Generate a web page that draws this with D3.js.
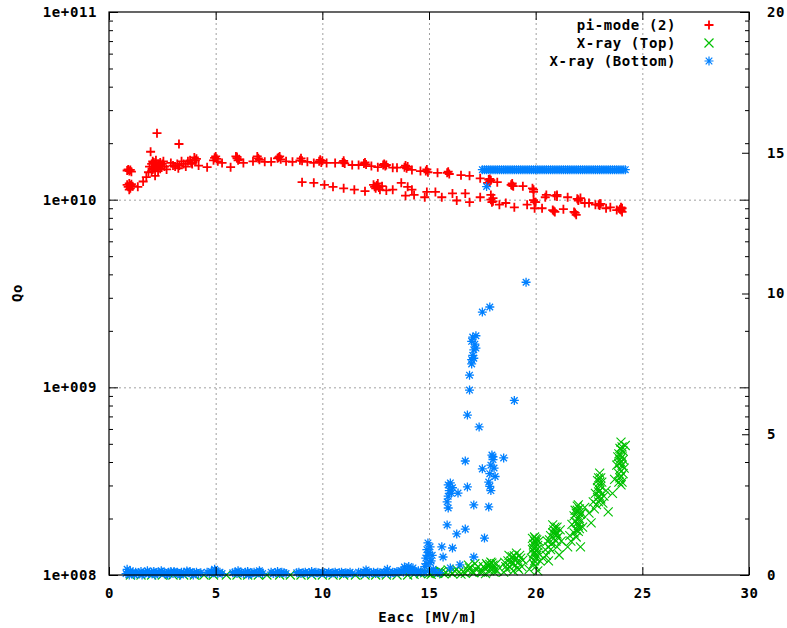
<!DOCTYPE html>
<html>
<head>
<meta charset="utf-8">
<script src="https://cdn.jsdelivr.net/npm/d3@7"></script>
<style>
  html, body { margin: 0; padding: 0; background: #fff; }
  svg text { font-family: "DejaVu Sans Mono", "Liberation Mono", monospace; font-weight: bold; font-size: 14px; letter-spacing: 0.6px; fill: #000; }
</style>
</head>
<body>
<svg id="chart" width="787" height="628"></svg>
<script>
// ---- data -------------------------------------------------------------
// Q0 versus accelerating gradient, pi-mode (left, log axis)
const piMode = [
  [0.85,1.43e10],[0.95,1.42e10],[1.0,1.44e10],[1.05,1.41e10],[0.9,1.45e10],
  [0.85,1.20e10],[0.9,1.17e10],[0.95,1.22e10],[1.0,1.19e10],[1.05,1.21e10],[1.1,1.18e10],[1.0,1.15e10],[0.95,1.13e10],
  [1.35,1.17e10],[1.6,1.25e10],[1.75,1.32e10],[1.85,1.40e10],[1.95,1.80e10],[2.25,2.26e10],
  [1.9,1.50e10],[2.0,1.55e10],[2.05,1.45e10],[2.1,1.58e10],[2.15,1.50e10],[2.2,1.62e10],[2.25,1.48e10],
  [2.3,1.55e10],[2.35,1.52e10],[2.4,1.58e10],[2.45,1.50e10],[2.5,1.55e10],[2.55,1.60e10],[2.0,1.42e10],
  [2.16,1.34e10],[2.3,1.42e10],[2.6,1.50e10],[2.7,1.45e10],[2.9,1.57e10],[3.0,1.52e10],[3.1,1.50e10],
  [2.1,1.47e10],[2.2,1.53e10],[2.4,1.46e10],[2.05,1.60e10],
  [3.28,1.98e10],[3.2,1.55e10],[3.25,1.47e10],[3.3,1.52e10],[3.4,1.60e10],[3.5,1.55e10],[3.6,1.50e10],
  [3.7,1.60e10],[3.8,1.62e10],[3.85,1.57e10],[3.9,1.55e10],[4.0,1.68e10],[4.05,1.62e10],[4.1,1.65e10],
  [4.2,1.52e10],[4.6,1.49e10],[4.9,1.62e10],[5.0,1.70e10],[5.05,1.65e10],[5.1,1.60e10],[5.3,1.57e10],
  [5.7,1.49e10],[5.95,1.70e10],[6.0,1.66e10],[6.05,1.62e10],[6.1,1.64e10],[6.3,1.57e10],[6.75,1.60e10],
  [6.95,1.70e10],[7.0,1.66e10],[7.05,1.63e10],[7.3,1.59e10],[7.6,1.59e10],[7.9,1.66e10],[8.0,1.70e10],
  [8.05,1.64e10],[8.3,1.60e10],[8.6,1.59e10],[8.95,1.62e10],[9.0,1.66e10],[9.05,1.61e10],[9.3,1.59e10],
  [9.6,1.57e10],[9.85,1.60e10],[9.9,1.63e10],[9.95,1.58e10],[10.2,1.57e10],[10.6,1.57e10],[10.95,1.58e10],
  [11.0,1.61e10],[11.05,1.56e10],[11.4,1.53e10],[11.7,1.53e10],[11.95,1.56e10],[12.0,1.58e10],[12.05,1.54e10],
  [12.3,1.51e10],[12.6,1.49e10],[12.85,1.53e10],[12.9,1.55e10],[12.95,1.51e10],[13.3,1.48e10],[13.5,1.48e10],
  [13.85,1.49e10],[13.9,1.52e10],[13.95,1.47e10],[14.2,1.44e10],[14.6,1.42e10],[14.85,1.42e10],[14.9,1.45e10],
  [14.95,1.40e10],[15.4,1.39e10],[15.85,1.39e10],[15.9,1.41e10],[15.95,1.37e10],[16.5,1.35e10],[16.9,1.34e10],
  [17.4,1.30e10],[17.8,1.28e10],[17.85,1.25e10],[17.9,1.27e10],[17.75,1.23e10],[18.2,1.24e10],[18.85,1.20e10],
  [18.9,1.22e10],[18.95,1.18e10],[19.4,1.18e10],[19.85,1.15e10],[19.9,1.13e10],[20.5,1.06e10],[20.45,1.03e10],
  [20.9,1.05e10],[21.0,1.06e10],[21.5,1.03e10],[21.95,1.01e10],[22.0,0.99e10],[22.1,1.02e10],[22.5,0.96e10],
  [22.95,0.94e10],[23.0,0.93e10],[23.05,0.95e10],[23.5,0.91e10],[23.95,0.89e10],[24.0,0.88e10],[24.05,0.90e10],
  [7.95,1.68e10],[6.0,1.69e10],[4.95,1.67e10],[10.0,1.61e10],[11.0,1.58e10],[13.0,1.53e10],[14.0,1.50e10],
  [17.85,1.29e10],[18.9,1.19e10],[19.9,1.10e10],[21.0,1.04e10],[22.0,1.00e10],[23.0,0.95e10],[24.0,0.91e10],
  // second ramp
  [9.05,1.24e10],[9.6,1.23e10],[10.1,1.20e10],[10.5,1.17e10],[11.0,1.15e10],[11.5,1.13e10],[12.0,1.11e10],
  [12.4,1.20e10],[12.5,1.15e10],[12.6,1.22e10],[12.7,1.13e10],[12.8,1.18e10],[13.0,1.12e10],[13.3,1.13e10],
  [12.45,1.17e10],[12.55,1.19e10],[12.65,1.16e10],
  [13.7,1.23e10],[13.9,1.05e10],[14.0,1.17e10],[14.2,1.13e10],[14.3,1.06e10],[14.8,1.03e10],[14.9,1.10e10],
  [15.3,1.10e10],[15.6,1.03e10],[16.1,1.08e10],[16.3,0.99e10],[16.7,1.08e10],[16.9,0.97e10],[17.4,1.03e10],
  [17.9,1.06e10],[17.95,0.97e10],[18.0,1.02e10],[18.3,0.94e10],[18.6,0.96e10],[19.0,0.91e10],[19.6,0.94e10],
  [19.9,0.995e10],[19.95,0.90e10],[20.0,0.97e10],[20.3,0.90e10],[20.8,0.88e10],[20.9,0.86e10],[21.3,0.89e10],
  [21.8,0.86e10],[21.9,0.83e10],[22.3,0.96e10],[22.8,0.94e10],[23.3,0.90e10],[23.8,0.88e10],[24.05,0.86e10],
  [17.9,1.00e10],[18.0,0.98e10],[19.95,0.97e10],[20.85,0.87e10],[21.85,0.85e10]
];

// X-ray dose rate, top detector (right axis)
const xrayTop = [
  [1.0,0],[1.5,0],[2.0,0],[2.5,0],[3.0,0],[3.5,0],[4.0,0],[4.45,0],[4.9,0],[5.5,0],[6.0,0],[6.5,0],
  [7.0,0],[7.4,0],[8.0,0],[8.5,0],[9.0,0],[9.5,0],[10.0,0],[10.5,0],[11.0,0],[11.55,0],[12.0,0],
  [12.5,0],[13.0,0],[13.5,0],[14.0,0],[14.3,0.02],
  [14.6,0.05],[14.8,0.08],[15.0,0.05],[15.2,0.1],[15.4,0.06],[15.6,0.12],[15.8,0.08],[16.0,0.1],
  [16.2,0.15],[16.4,0.1],[16.6,0.12],[16.8,0.18],[17.0,0.12],[17.2,0.2],[15.1,0.02],[15.7,0.04],[16.5,0.03],
  [15.3,0.08],[15.5,0.15],[15.9,0.18],[16.1,0.05],[16.3,0.2],[16.7,0.06],[16.9,0.25],[17.1,0.08],[17.3,0.3],
  [17.4,0.1],[16.85,0.35],[17.15,0.4],
  [17.5,0.1],[17.6,0.25],[17.7,0.4],[17.8,0.3],[17.9,0.46],[18.0,0.35],[18.1,0.2],[18.2,0.15],[17.65,0.05],
  [17.85,0.15],[17.95,0.42],[17.75,0.33],[17.55,0.3],[18.15,0.4],[18.05,0.1],[17.85,0.38],[18.0,0.22],
  [18.5,0.1],[18.6,0.3],[18.7,0.5],[18.8,0.28],[18.9,0.65],[19.0,0.55],[19.1,0.78],[19.2,0.45],[19.3,0.6],
  [19.4,0.53],[18.75,0.7],[19.05,0.35],[18.95,0.15],[18.55,0.45],[18.65,0.2],[19.15,0.25],[19.25,0.7],
  [19.35,0.3],[18.85,0.5],[19.0,0.68],[18.9,0.4],[19.1,0.6],[19.2,0.2],
  [19.7,0.2],[19.8,0.6],[19.85,0.9],[19.9,1.1],[19.95,1.35],[20.0,1.0],[20.05,1.25],[20.1,0.8],[20.15,1.2],
  [20.2,0.5],[19.9,0.75],[20.0,1.15],[19.9,0.4],[20.0,0.6],[20.05,0.9],[19.95,1.2],[20.1,1.05],[19.85,1.3],
  [19.95,0.5],[20.0,0.3],[20.05,0.7],[19.9,0.95],[20.0,1.28],[19.95,0.8],[20.1,0.15],
  [20.35,0.6],[20.45,0.9],[20.55,1.2],[20.6,1.0],[20.7,1.4],[20.8,1.78],[20.85,1.3],[20.95,1.55],[21.0,1.7],
  [21.1,0.71],[21.2,1.2],[21.15,1.6],[20.9,1.45],[21.05,1.35],[20.75,1.1],[20.85,1.6],[20.95,1.2],[21.0,1.45],
  [20.5,0.7],[20.65,1.25],[20.8,1.5],[20.9,1.7],[20.7,0.9],[21.0,1.0],[20.6,0.5],
  [21.5,1.0],[21.6,1.4],[21.7,1.8],[21.8,2.1],[21.9,1.6],[21.95,2.3],[22.0,2.49],[22.05,2.0],[22.1,1.0],
  [22.15,2.2],[22.2,1.7],[22.3,2.4],[21.85,1.9],[22.0,1.75],[22.1,2.15],[21.9,2.2],[22.0,2.05],[21.95,1.85],
  [22.05,2.35],[21.8,1.5],[22.1,1.9],[21.65,1.2],[21.9,1.35],[22.0,1.55],[21.95,2.45],[22.05,1.65],[21.85,2.3],
  [22.5,2.2],[22.6,1.85],[22.7,2.6],[22.8,2.9],[22.9,3.1],[22.95,3.45],[23.0,3.62],[23.05,2.7],[23.1,3.3],
  [23.2,2.8],[23.3,3.0],[23.4,2.24],[22.85,2.5],[23.0,3.0],[22.9,2.75],[23.0,3.3],[22.95,2.95],[23.05,3.15],
  [22.75,2.35],[23.15,2.55],[22.9,3.35],[23.0,2.8],[22.95,2.6],[23.05,3.45],
  [23.6,2.9],[23.7,3.4],[23.8,3.9],[23.85,4.2],[23.9,3.6],[23.95,4.5],[24.0,4.72],[24.0,4.0],[24.05,3.3],
  [24.1,4.4],[24.15,3.8],[24.2,4.6],[23.9,4.3],[24.0,3.5],[24.1,4.1],[23.95,3.75],[24.0,4.25],[24.05,3.9],
  [23.9,3.3],[24.1,3.6],[23.95,4.1],[24.05,4.55],[24.0,3.2],[23.95,3.45],[24.05,4.2],[24.0,4.45],[23.9,3.95]
];

// X-ray dose rate, bottom detector (right axis)
const xrayBottom = [
  [0.8,0.05],[0.85,0.2],[0.9,0.1],[0.95,0],[1.0,0.15],[1.05,0.05],[1.1,0.1],[1.2,0],[1.3,0.05],[1.4,0.08],
  [1.5,0.12],[1.6,0.05],[1.7,0.1],[1.8,0.15],[1.9,0.05],[2.0,0.1],[2.1,0.12],[2.2,0.08],[2.3,0.1],[2.4,0.05],
  [2.5,0.1],[2.6,0.08],[2.7,0.05],[2.8,0.1],[2.9,0.12],[3.0,0.05],[3.1,0.08],[3.2,0.1],[3.3,0.05],[3.4,0.1],
  [3.5,0.08],[3.6,0.05],[3.7,0.1],[3.8,0.12],[3.9,0.05],[4.0,0.08],[4.1,0.1],[4.2,0.05],[4.3,0.08],
  [1.25,0.1],[1.55,0],[1.85,0.05],[2.15,0],[2.45,0.15],[2.75,0],[3.05,0.12],[3.35,0],[3.65,0.14],[3.95,0],
  [4.6,0.1],[4.7,0.05],[4.8,0.12],[4.9,0.08],[5.0,0.15],[5.1,0.05],[5.2,0.1],[5.3,0.05],[4.95,0.2],
  [5.8,0.08],[5.9,0.1],[6.0,0.05],[6.1,0.1],[6.2,0.08],[6.3,0.05],[6.4,0.1],[6.5,0.12],[6.6,0.05],[6.7,0.08],
  [6.8,0.1],[6.9,0.05],[7.0,0.08],[7.1,0.1],[7.2,0.05],[6.05,0.15],[6.55,0],[7.05,0.15],
  [7.6,0.1],[7.7,0.05],[7.8,0.08],[7.9,0.12],[8.0,0.05],[8.1,0.1],[8.2,0.08],[8.3,0.05],
  [8.8,0.08],[8.9,0.1],[9.0,0.05],[9.1,0.08],[9.2,0.1],[9.3,0.05],[9.4,0.08],[9.5,0.12],[9.6,0.05],[9.7,0.1],
  [9.8,0.08],[9.9,0.05],[10.0,0.1],[10.1,0.08],[10.2,0.05],[10.3,0.1],[10.4,0.05],[10.5,0.08],[10.6,0.1],
  [10.7,0.05],[10.8,0.08],[10.9,0.1],[11.0,0.05],[11.1,0.08],[11.2,0.05],[11.3,0.1],[11.4,0.05],
  [11.7,0.1],[11.8,0.08],[11.9,0.05],[12.0,0.1],[12.1,0.12],[12.2,0.05],[12.3,0.08],[12.4,0.1],[12.5,0.05],
  [12.6,0.1],[12.7,0.08],[12.8,0.05],[12.9,0.1],[13.0,0.12],[13.1,0.08],[13.2,0.05],[13.3,0.1],[13.4,0.08],
  [13.5,0.12],[13.6,0.1],[13.7,0.15],[13.8,0.1],[13.9,0.2],[14.0,0.15],[14.1,0.1],[14.2,0.2],[14.3,0.12],
  [14.4,0.1],[14.5,0.15],[14.6,0.1],[13.85,0.28],[14.05,0.3],[14.25,0.25],[12.05,0.18],[13.05,0.2],
  [14.8,0.3],[14.85,0.6],[14.9,0.9],[14.95,1.14],[15.0,0.8],[15.05,1.0],[15.1,0.5],[15.15,0.7],[15.2,0.2],
  [14.9,0.4],[14.8,0.1],[15.0,0.15],[15.3,0.1],[15.5,0.08],[14.95,0.7],[15.05,0.45],
  [15.6,1.0],[15.66,0.64],[16.1,0.96],[16.45,0.36],[16.0,0.25],[15.85,1.78],[16.3,1.46],[16.7,1.63],
  [17.6,1.31],[17.1,0.64],[15.9,2.38],
  [15.85,2.6],[15.9,2.8],[15.95,3.0],[16.0,3.27],[16.05,2.9],[16.1,3.1],[15.9,3.2],[16.36,2.91],
  [16.7,4.05],[17.5,3.77],[18.5,4.16],[16.8,3.13],[17.1,2.49],[17.8,2.42],
  [17.8,3.3],[17.85,3.6],[17.9,3.9],[17.95,4.26],[18.0,4.1],[18.05,3.8],[18.1,3.5],[17.9,3.0],[18.0,4.2],
  [17.85,3.15],
  [17.0,7.65],[17.05,7.8],[17.1,8.0],[17.15,8.2],[17.2,8.5],[17.0,8.3],[17.1,7.7],[17.2,8.06],[17.05,8.45],
  [17.0,7.5],[16.9,7.1],[16.9,6.57],[16.8,5.68],[17.35,5.26],[19.0,6.2],[17.5,9.34],[17.85,9.52],[19.55,10.4],
  [17.7,13.8],
  [17.5,14.4],[17.6,14.4],[17.7,14.4],[17.8,14.4],[17.9,14.4],[18.0,14.4],[18.1,14.4],[18.2,14.4],[18.3,14.4],
  [18.4,14.4],[18.5,14.4],[18.6,14.4],[18.7,14.4],[18.8,14.4],[18.9,14.4],[19.0,14.4],[19.1,14.4],[19.2,14.4],
  [19.3,14.4],[19.4,14.4],[19.5,14.4],[19.6,14.4],[19.7,14.4],[19.8,14.4],[19.9,14.4],[20.0,14.4],[20.1,14.4],
  [20.2,14.4],[20.3,14.4],[20.4,14.4],[20.5,14.4],[20.6,14.4],[20.7,14.4],[20.8,14.4],[20.9,14.4],[21.0,14.4],
  [21.1,14.4],[21.2,14.4],[21.3,14.4],[21.4,14.4],[21.5,14.4],[21.6,14.4],[21.7,14.4],[21.8,14.4],[21.9,14.4],
  [22.0,14.4],[22.1,14.4],[22.2,14.4],[22.3,14.4],[22.4,14.4],[22.5,14.4],[22.6,14.4],[22.7,14.4],[22.8,14.4],
  [22.9,14.4],[23.0,14.4],[23.1,14.4],[23.2,14.4],[23.3,14.4],[23.4,14.4],[23.5,14.4],[23.6,14.4],[23.7,14.4],
  [23.8,14.4],[23.9,14.4],[24.0,14.4],[24.1,14.4],[24.2,14.4]
];

const xTicks = [0, 5, 10, 15, 20, 25, 30];
const qTicks = [1e8, 1e9, 1e10, 1e11];
const qMinorTicks = [2,3,4,5,6,7,8,9].flatMap(k => [k*1e8, k*1e9, k*1e10]);
const y2Ticks = [0, 5, 10, 15, 20];
const seriesNames = ["pi-mode (2)", "X-ray (Top)", "X-ray (Bottom)"];
const seriesColors = ["#ff0000", "#00c000", "#0080ff"];

// ---- layout -----------------------------------------------------------
const svg = d3.select("#chart");
const L = 109, R = 749, T = 12, B = 575;

const x = d3.scaleLinear().domain([0, 30]).range([L, R]);
const yQ = d3.scaleLog().domain([1e8, 1e11]).range([B, T]);
const y2 = d3.scaleLinear().domain([0, 20]).range([B, T]);

const qFormat = v => "1e+" + String(Math.round(Math.log10(v))).padStart(3, "0");

// grid
const grid = svg.append("g").attr("class", "grid");
grid.append("g").attr("transform", `translate(0,${B})`)
  .call(d3.axisBottom(x).tickValues([5,10,15,20,25]).tickSize(-(B - T)).tickFormat(""));
grid.append("g").attr("transform", `translate(${L},0)`)
  .call(d3.axisLeft(yQ).tickValues([1e9, 1e10]).tickSize(-(R - L)).tickFormat(""));
grid.selectAll(".domain").remove();
grid.selectAll("line").attr("stroke", "#a0a0a0").attr("stroke-dasharray", "2,3");

// markers
const plusPath = "M-4.5,0H4.5M0,-4.5V4.5";
const crossPath = "M-4.5,-4.5L4.5,4.5M-4.5,4.5L4.5,-4.5";
const starPath = "M-4.5,0H4.5M0,-4.5V4.5M-3.3,-3.3L3.3,3.3M-3.3,3.3L3.3,-3.3";

const marks = svg.append("g");

marks.append("g").selectAll("path").data(piMode).join("path")
  .attr("d", plusPath)
  .attr("transform", d => `translate(${x(d[0])},${yQ(d[1])})`)
  .attr("fill", "none").attr("stroke", seriesColors[0]).attr("stroke-width", 1.8);

marks.append("g").selectAll("path").data(xrayTop).join("path")
  .attr("d", crossPath)
  .attr("transform", d => `translate(${x(d[0])},${y2(d[1])})`)
  .attr("fill", "none").attr("stroke", seriesColors[1]).attr("stroke-width", 1.1);

marks.append("g").selectAll("path").data(xrayBottom).join("path")
  .attr("d", starPath)
  .attr("transform", d => `translate(${x(d[0])},${y2(d[1])})`)
  .attr("fill", "none").attr("stroke", seriesColors[2]).attr("stroke-width", 1.3);

// axes
const axes = svg.append("g");
const styleAxis = g => { g.select(".domain").remove(); g.selectAll("line").attr("stroke", "#000"); g.selectAll("text").attr("font-size", null).attr("font-family", null); };

axes.append("g").attr("transform", `translate(0,${B})`)
  .call(d3.axisBottom(x).tickValues(xTicks).tickSize(-8).tickPadding(13).tickFormat(d3.format("d")))
  .call(styleAxis);
axes.append("g").attr("transform", `translate(0,${T})`)
  .call(d3.axisTop(x).tickValues(xTicks).tickSize(-8).tickFormat(""))
  .call(styleAxis);
axes.append("g").attr("transform", `translate(${L},0)`)
  .call(d3.axisLeft(yQ).tickValues(qTicks).tickSize(-9).tickPadding(12).tickFormat(qFormat))
  .call(styleAxis);
axes.append("g").attr("transform", `translate(${L},0)`)
  .call(d3.axisLeft(yQ).tickValues(qMinorTicks).tickSize(-4).tickFormat(""))
  .call(styleAxis);
axes.append("g").attr("transform", `translate(${R},0)`)
  .call(d3.axisRight(yQ).tickValues(qTicks).tickSize(-9).tickFormat(""))
  .call(styleAxis);
axes.append("g").attr("transform", `translate(${R},0)`)
  .call(d3.axisRight(yQ).tickValues(qMinorTicks).tickSize(-4).tickFormat(""))
  .call(styleAxis);
axes.append("g").attr("transform", `translate(${R},0)`)
  .call(d3.axisRight(y2).tickValues(y2Ticks).tickSize(-7).tickPadding(18).tickFormat(d3.format("d")))
  .call(styleAxis);

// frame
svg.append("rect").attr("x", L).attr("y", T).attr("width", R - L).attr("height", B - T)
  .attr("fill", "none").attr("stroke", "#000").attr("stroke-width", 1.2);

// axis titles
svg.append("text").attr("x", 428).attr("y", 622).attr("text-anchor", "middle").text("Eacc [MV/m]");
svg.append("text").attr("transform", "translate(22,293) rotate(-90)").attr("text-anchor", "middle").text("Qo");

// legend
const legend = svg.append("g");
const legendPaths = [plusPath, crossPath, starPath];
seriesNames.forEach((name, i) => {
  const yy = 25 + i * 18;
  legend.append("text").attr("x", 676).attr("y", yy).attr("dy", "0.35em").attr("text-anchor", "end").text(name);
  legend.append("path").attr("d", legendPaths[i]).attr("transform", `translate(709,${yy})`)
    .attr("fill", "none").attr("stroke", seriesColors[i]).attr("stroke-width", i === 0 ? 1.8 : 1.2);
});
</script>
</body>
</html>
